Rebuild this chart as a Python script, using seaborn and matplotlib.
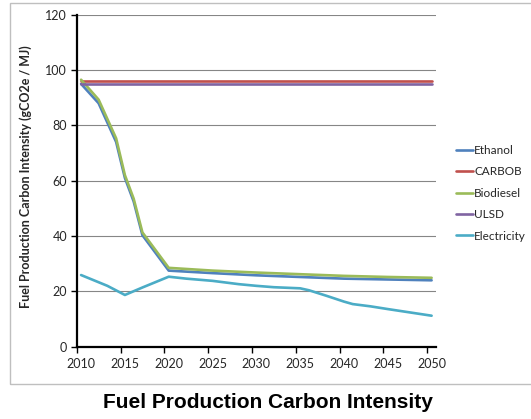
import pandas as pd
import matplotlib.pyplot as plt
import seaborn as sns
from matplotlib.patches import Rectangle

# values
years_main = [2010, 2012, 2014, 2015, 2016, 2017, 2020, 2025, 2030, 2035, 2040, 2045, 2050]
ethanol = [95.0, 88.0, 74.0, 61.0, 52.5, 40.3, 27.5, 26.6, 25.8, 25.2, 24.6, 24.3, 24.0]
biodiesel = [96.5, 89.3, 75.3, 62.0, 53.5, 41.3, 28.5, 27.5, 26.8, 26.2, 25.6, 25.2, 24.9]

years_flat = [2010, 2050]
carbob = [96.0, 96.0]
ulsd = [94.8, 94.8]

years_elec = [2010, 2012, 2013, 2015, 2017, 2020, 2022, 2025, 2028, 2030,
              2032, 2035, 2036, 2038, 2040, 2041, 2043, 2045, 2050]
electricity = [25.9, 23.3, 22.0, 18.7, 21.4, 25.3, 24.6, 23.8, 22.6, 22.0,
               21.5, 21.1, 20.4, 18.4, 16.3, 15.4, 14.6, 13.6, 11.2]

fuels = ["Ethanol", "CARBOB", "Biodiesel", "ULSD", "Electricity"]
colors = ["#4F81BD", "#C0504D", "#9BBB59", "#8064A2", "#4BACC6"]

frames = []
for name, yrs, vals in [
    ("Ethanol", years_main, ethanol),
    ("CARBOB", years_flat, carbob),
    ("Biodiesel", years_main, biodiesel),
    ("ULSD", years_flat, ulsd),
    ("Electricity", years_elec, electricity),
]:
    frames.append(pd.DataFrame({"year": yrs, "value": vals, "fuel": name}))
df = pd.concat(frames, ignore_index=True)

sns.set_style("white")
plt.rcParams["font.family"] = ["Lato", "DejaVu Sans"]

fig = plt.figure(figsize=(5.31, 4.19), dpi=100)
W, H = 531, 419
ax = fig.add_axes([76.7 / W, 1 - 346.7 / H, (436 - 76.7) / W, (346.7 - 14.7) / H])

# chart border (cut off on the right like the reference)
fig.patches.append(Rectangle((10 / W, 1 - 384 / H), 1.0, (384 - 2.7) / H,
                             transform=fig.transFigure, fill=False,
                             edgecolor="#BFBFBF", linewidth=1.0, zorder=0))

sns.lineplot(data=df, x="year", y="value", hue="fuel", hue_order=fuels,
             palette=colors, linewidth=1.9, sort=False, estimator=None,
             legend=False, ax=ax, zorder=3)

ax.set_xlim(2009.5, 2050.5)
ax.set_ylim(0, 120)
ax.set_yticks(range(0, 121, 20))
ax.yaxis.grid(True, color="#868686", linewidth=0.8)
ax.set_axisbelow(True)

# labels centred on categories, tick marks on category boundaries
ax.set_xticks(range(2010, 2051, 5))
ax.set_xticks([2009.5 + 5 * k for k in range(9)], minor=True)
ax.tick_params(axis="x", which="major", length=0, pad=8, labelsize=9)
ax.tick_params(axis="x", which="minor", length=4, width=1, direction="out",
               color="black", bottom=True)
ax.tick_params(axis="y", length=4, width=1, direction="out", color="black",
               left=True, pad=3, labelsize=9)

for s in ["top", "right"]:
    ax.spines[s].set_visible(False)
for s in ["left", "bottom"]:
    ax.spines[s].set_color("black")
    ax.spines[s].set_linewidth(1.6)

ax.set_xlabel("")
ax.set_ylabel("")
fig.text(26 / W, 1 - 177 / H, "Fuel Production Carbon Intensity (gCO2e / MJ)",
         rotation=90, ha="center", va="center", fontsize=9.0, fontweight="bold")

handles = [plt.Line2D([], [], color=c, linewidth=1.9) for c in colors]
fig.legend(handles, fuels, loc="upper left", bbox_to_anchor=(456 / W, 1 - 145 / H),
           frameon=False, fontsize=8.5, handlelength=1.4, handletextpad=0.15,
           labelspacing=0.88, borderaxespad=0, borderpad=0)

fig.text(268 / W, 1 - 402.5 / H, "Fuel Production Carbon Intensity",
         ha="center", va="center", fontsize=15, fontweight="bold",
         family="Liberation Sans", color="black")

fig.savefig("out.png", dpi=100)
